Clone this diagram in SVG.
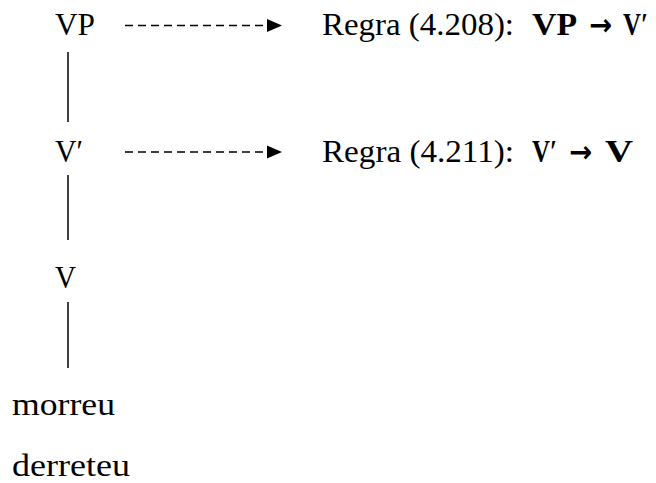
<svg xmlns="http://www.w3.org/2000/svg" width="656" height="483" viewBox="0 0 656 483">
  <defs>
    <style>
      text { font-family: 'Liberation Serif', 'DejaVu Serif', serif; font-size: 32px; fill: #000; }
      .b { font-weight: bold; }
      .arr { font-family: 'DejaVu Sans', sans-serif; font-weight: bold; font-size: 30px; }
      .tree { stroke: #000; stroke-width: 1.5; fill: none; }
      .dash { stroke: #000; stroke-width: 1.4; stroke-dasharray: 8 5; fill: none; }
    </style>
    <marker id="tri" markerUnits="userSpaceOnUse" markerWidth="16" markerHeight="14" refX="1" refY="7" orient="auto">
      <polygon points="0,0.5 15,7 0,13.5" fill="#000"/>
    </marker>
  </defs>
  <rect width="656" height="483" fill="#fff"/>
  <g id="connectors">
    <line class="tree" x1="68" y1="52" x2="68" y2="122"/>
    <line class="tree" x1="68" y1="175" x2="68" y2="240"/>
    <line class="tree" x1="68" y1="302" x2="68" y2="368"/>
    <line class="dash" x1="125" y1="25.5" x2="268" y2="25.5" marker-end="url(#tri)"/>
    <line class="dash" x1="125" y1="152" x2="268" y2="152" marker-end="url(#tri)"/>
  </g>
  <g id="node-VP"><text x="55" y="35" textLength="40" lengthAdjust="spacingAndGlyphs">VP</text></g>
  <g id="node-Vbar"><text x="55" y="162" textLength="28" lengthAdjust="spacingAndGlyphs">V′</text></g>
  <g id="node-V"><text x="55" y="288" textLength="21" lengthAdjust="spacingAndGlyphs">V</text></g>
  <g id="node-morreu"><text x="12" y="415" textLength="103" lengthAdjust="spacingAndGlyphs">morreu</text></g>
  <g id="node-derreteu"><text x="12" y="476" textLength="118" lengthAdjust="spacingAndGlyphs">derreteu</text></g>
  <g id="rule-1">
    <text x="322" y="35" textLength="192" lengthAdjust="spacingAndGlyphs">Regra (4.208):</text>
    <text class="b" x="532" y="35" textLength="45" lengthAdjust="spacingAndGlyphs">VP</text>
    <text class="arr" x="589" y="35" textLength="23" lengthAdjust="spacingAndGlyphs">→</text>
    <text class="b" x="623" y="35" textLength="25" lengthAdjust="spacingAndGlyphs">V′</text>
  </g>
  <g id="rule-2">
    <text x="322" y="162" textLength="192" lengthAdjust="spacingAndGlyphs">Regra (4.211):</text>
    <text class="b" x="532" y="162" textLength="25" lengthAdjust="spacingAndGlyphs">V′</text>
    <text class="arr" x="569" y="162" textLength="23" lengthAdjust="spacingAndGlyphs">→</text>
    <text class="b" x="605" y="162" textLength="28" lengthAdjust="spacingAndGlyphs">V</text>
  </g>
</svg>
